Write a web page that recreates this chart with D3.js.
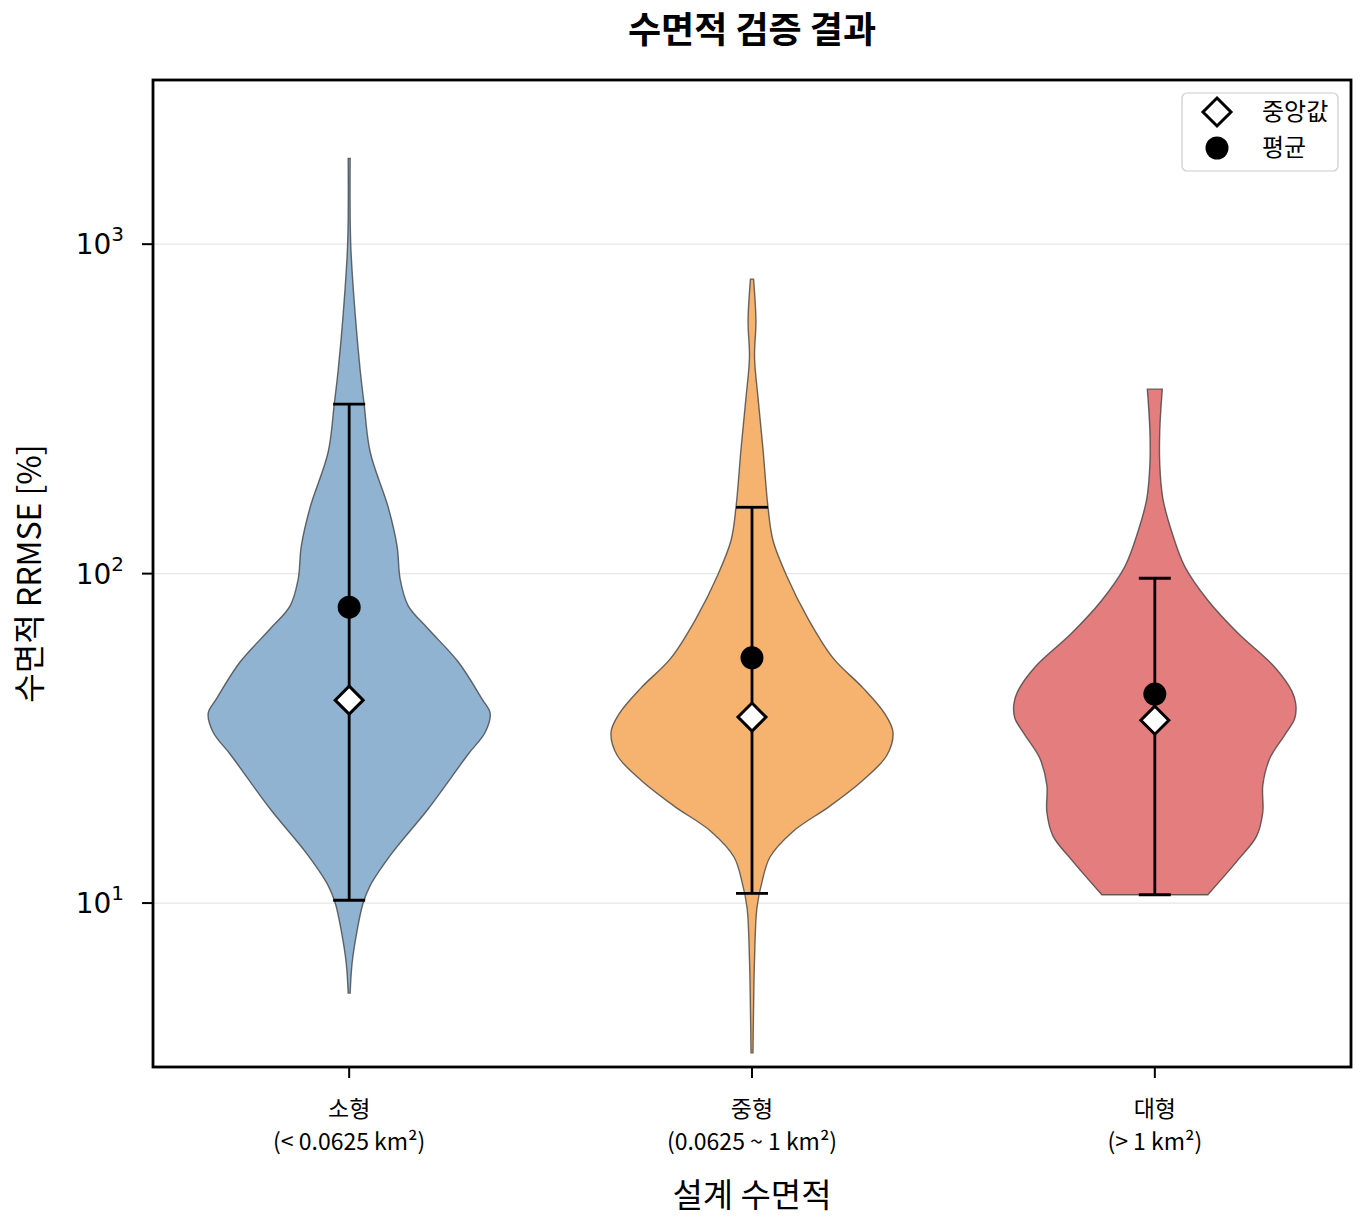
<!DOCTYPE html>
<html>
<head>
<meta charset="utf-8">
<script src="https://cdn.jsdelivr.net/npm/d3@7"></script>
<style>
  body { margin: 0; background: #fff; }
  text { font-family: "Noto Sans CJK KR", "Noto Sans", sans-serif; }
  .ytick text { font-family: "DejaVu Sans", sans-serif; }
</style>
</head>
<body>
<div class="chart"></div>
<script>
// CHART DATA
var categories = ["소형", "중형", "대형"];
var categoryRanges = ["(< 0.0625 km²)", "(0.0625 ~ 1 km²)", "(> 1 km²)"];
var fillColors = ["#8fb3d1", "#f5b36f", "#e47d7d"];

// violin outlines: RRMSE value [%] and relative density (1 = widest)
var smallValues   = [1820, 1000, 610, 415, 327, 234, 159, 121, 96, 80, 68, 54, 41.6, 37.7, 33.0, 28.3, 19.3, 14.2, 11.3, 10.0, 8.28, 6.58, 5.33];
var smallDensity  = [0.007, 0.011, 0.043, 0.078, 0.106, 0.149, 0.277, 0.34, 0.362, 0.418, 0.56, 0.773, 0.943, 1.0, 0.965, 0.844, 0.56, 0.305, 0.149, 0.099, 0.057, 0.021, 0.007];
var mediumValues  = [783, 584, 454, 341, 239, 160, 126, 98, 74, 55.5, 45, 37.5, 33.0, 28.1, 23.6, 19.7, 16.5, 13.8, 11.6, 9.66, 6.76, 4.73, 3.51];
var mediumDensity = [0.011, 0.028, 0.018, 0.043, 0.078, 0.113, 0.149, 0.248, 0.39, 0.574, 0.787, 0.943, 1.0, 0.957, 0.787, 0.553, 0.291, 0.128, 0.071, 0.035, 0.018, 0.011, 0.007];
var largeValues   = [363, 271, 215, 169, 134, 105, 83, 66, 52, 44, 40.2, 36.4, 32.4, 27.5, 22.8, 18.9, 16.0, 13.5, 10.6];
var largeDensity  = [0.053, 0.035, 0.035, 0.057, 0.12, 0.213, 0.376, 0.589, 0.851, 0.972, 1.0, 0.993, 0.922, 0.816, 0.766, 0.766, 0.723, 0.589, 0.376];

// summary statistics
var medians = [41.3, 36.7, 35.9];
var means   = [79.1, 55.5, 43.1];
var lowers  = [10.2, 10.7, 10.6];
var uppers  = [327, 159, 96.8];

var yTicks = [10, 100, 1000];
var yTickExp = ["1", "2", "3"];

// SET UP SIZE, DIMENSION, & LOCATION OF CHART AREA
var svgWidth = 1365;
var svgHeight = 1228;

var margin = { top: 80, right: 14, bottom: 161, left: 153 };

var width = svgWidth - margin.left - margin.right;
var height = svgHeight - margin.top - margin.bottom;

var svg = d3.select(".chart")
  .append("svg")
  .attr("width", svgWidth)
  .attr("height", svgHeight);

var chartGroup = svg.append("g")
  .attr("transform", `translate(${margin.left}, ${margin.top})`);

// scales
var xScale = d3.scaleLinear()
  .domain([-0.487, 2.487])
  .range([0, width]);

var yScale = d3.scaleLog()
  .domain([3.18, 3150])
  .range([height, 0]);

var violinHalf = 0.35; // half width of a violin, in category units

// gridlines
chartGroup.selectAll(".grid")
  .data(yTicks)
  .enter()
  .append("line")
  .attr("x1", 0)
  .attr("x2", width)
  .attr("y1", d => yScale(d))
  .attr("y2", d => yScale(d))
  .attr("stroke", "#e6e6e6")
  .attr("stroke-width", 1.2);

// violins
var violinData = [
  smallValues.map((v, i) => ({ v: v, d: smallDensity[i] })),
  mediumValues.map((v, i) => ({ v: v, d: mediumDensity[i] })),
  largeValues.map((v, i) => ({ v: v, d: largeDensity[i] }))
];

violinData.forEach(function(points, i) {
  var area = d3.area()
    .y(d => yScale(d.v))
    .x0(d => xScale(i - violinHalf * d.d))
    .x1(d => xScale(i + violinHalf * d.d))
    .curve(d3.curveCatmullRom.alpha(0.5));

  chartGroup.append("path")
    .datum(points)
    .attr("d", area)
    .attr("fill", fillColors[i])
    .attr("stroke", "#3a3a3a")
    .attr("stroke-opacity", 0.75)
    .attr("stroke-width", 1.4);
});

// error bars (whiskers with caps)
var capHalf = 16;
categories.forEach(function(c, i) {
  var cx = xScale(i);
  chartGroup.append("line")
    .attr("x1", cx).attr("x2", cx)
    .attr("y1", yScale(lowers[i])).attr("y2", yScale(uppers[i]))
    .attr("stroke", "black").attr("stroke-width", 2.8);
  [lowers[i], uppers[i]].forEach(function(v) {
    chartGroup.append("line")
      .attr("x1", cx - capHalf).attr("x2", cx + capHalf)
      .attr("y1", yScale(v)).attr("y2", yScale(v))
      .attr("stroke", "black").attr("stroke-width", 2.8);
  });
});

// mean markers
chartGroup.selectAll(".mean")
  .data(means)
  .enter()
  .append("circle")
  .attr("cx", (d, i) => xScale(i))
  .attr("cy", d => yScale(d))
  .attr("r", 11.5)
  .attr("fill", "black");

// median markers (diamonds)
var diamond = "M0,-14L14,0L0,14L-14,0Z";
chartGroup.selectAll(".median")
  .data(medians)
  .enter()
  .append("path")
  .attr("d", diamond)
  .attr("transform", (d, i) => `translate(${xScale(i)}, ${yScale(d)})`)
  .attr("fill", "white")
  .attr("stroke", "black")
  .attr("stroke-width", 3)
  .attr("stroke-linejoin", "miter");

// frame
chartGroup.append("rect")
  .attr("x", 0).attr("y", 0)
  .attr("width", width).attr("height", height)
  .attr("fill", "none")
  .attr("stroke", "black")
  .attr("stroke-width", 2.8);

// y axis ticks and labels
var yTickG = chartGroup.selectAll(".ytick")
  .data(yTicks)
  .enter()
  .append("g")
  .attr("class", "ytick")
  .attr("transform", d => `translate(0, ${yScale(d)})`);

yTickG.append("line")
  .attr("x1", -11).attr("x2", 0)
  .attr("stroke", "black").attr("stroke-width", 2);

var yLabel = yTickG.append("text")
  .attr("x", -29)
  .attr("y", 10)
  .attr("text-anchor", "end")
  .attr("font-size", 28)
  .attr("fill", "black");
yLabel.append("tspan").text("10");
yLabel.append("tspan")
  .attr("font-size", 20)
  .attr("dy", -13)
  .text((d, i) => yTickExp[i]);

// x axis ticks and labels
var xTickG = chartGroup.selectAll(".xtick")
  .data(categories)
  .enter()
  .append("g")
  .attr("transform", (d, i) => `translate(${xScale(i)}, ${height})`);

xTickG.append("line")
  .attr("y1", 0).attr("y2", 11)
  .attr("stroke", "black").attr("stroke-width", 2);

xTickG.append("text")
  .attr("y", 50)
  .attr("text-anchor", "middle")
  .attr("font-size", 23)
  .text(d => d);

xTickG.append("text")
  .attr("y", 83)
  .attr("text-anchor", "middle")
  .attr("font-size", 23)
  .text((d, i) => categoryRanges[i]);

// axis titles
svg.append("text")
  .attr("x", margin.left + width / 2)
  .attr("y", 43)
  .attr("text-anchor", "middle")
  .attr("font-size", 36)
  .attr("font-weight", "bold")
  .text("수면적 검증 결과");

svg.append("text")
  .attr("x", margin.left + width / 2)
  .attr("y", 1207)
  .attr("text-anchor", "middle")
  .attr("font-size", 33)
  .text("설계 수면적");

svg.append("text")
  .attr("transform", `translate(41, ${margin.top + height / 2}) rotate(-90)`)
  .attr("text-anchor", "middle")
  .attr("font-size", 32)
  .text("수면적 RRMSE [%]");

// legend
var legend = svg.append("g")
  .attr("transform", "translate(1182, 93)");

legend.append("rect")
  .attr("width", 156).attr("height", 78)
  .attr("rx", 5)
  .attr("fill", "white")
  .attr("stroke", "#cccccc")
  .attr("stroke-width", 1.2);

legend.append("path")
  .attr("d", diamond)
  .attr("transform", "translate(35, 19)")
  .attr("fill", "white")
  .attr("stroke", "black")
  .attr("stroke-width", 3);

legend.append("circle")
  .attr("cx", 35).attr("cy", 55)
  .attr("r", 11.5)
  .attr("fill", "black");

legend.append("text")
  .attr("x", 80).attr("y", 27)
  .attr("font-size", 24)
  .text("중앙값");

legend.append("text")
  .attr("x", 80).attr("y", 63)
  .attr("font-size", 24)
  .text("평균");
</script>
</body>
</html>
